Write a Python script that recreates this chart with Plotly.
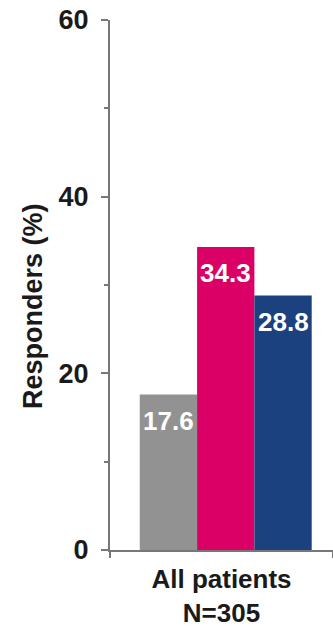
import plotly.graph_objects as go

# Responder rates for the three treatment arms, all patients (N=305)
category = "<b>All patients</b><br><b>N=305</b>"
arms = ["Arm A", "Arm B", "Arm C"]
responders = [17.6, 34.3, 28.8]
colors = ["#929292", "#da0066", "#1b427e"]
y_ticks = [0, 20, 40, 60]

FONT = "Liberation Sans, Arial, sans-serif"
PLOT_W = 223   # plot-area width in px (333 - left margin)
PLOT_H = 530   # plot-area height in px
bar_w = 0.257
shift = 0.019

fig = go.Figure()
for i, (name, val, col) in enumerate(zip(arms, responders, colors)):
    fig.add_trace(go.Bar(
        x=[category], y=[val], name=name,
        marker=dict(color=col, line=dict(width=0)),
        width=bar_w, offset=-1.5 * bar_w + shift + i * bar_w,
        showlegend=False, hoverinfo="skip",
    ))
    fig.add_annotation(
        x=category, y=val, xref="x", yref="y",
        xshift=((i - 1) * bar_w + shift) * PLOT_W,
        yshift=-26, text=f"<b>{val}</b>", showarrow=False,
        font=dict(family=FONT, size=26, color="white"),
    )

fig.add_annotation(
    xref="paper", yref="paper",
    x=(33 - 110) / PLOT_W, y=(550 - 306) / PLOT_H,
    xanchor="center", yanchor="middle",
    text="<b>Responders (%)</b>", showarrow=False, textangle=-90,
    font=dict(family=FONT, size=27, color="#1a1a1a"),
)

fig.update_layout(
    width=333, height=627,
    margin=dict(l=110, r=0, t=20, b=77),
    paper_bgcolor="white", plot_bgcolor="white",
    barmode="overlay",
    font=dict(family=FONT, color="#1a1a1a"),
    xaxis=dict(
        type="category", range=[-0.5, 0.5], tickson="boundaries",
        showline=True, linecolor="#777777", linewidth=2,
        ticks="outside", ticklen=6, tickcolor="#777777", tickwidth=1.5,
        tickfont=dict(size=26, color="#1a1a1a"), ticklabelstandoff=5,
        showgrid=False, zeroline=False, automargin=False,
    ),
    yaxis=dict(
        range=[0, 60], tickvals=y_ticks,
        ticktext=[f"<b>{t}</b>" for t in y_ticks],
        showline=True, linecolor="#777777", linewidth=2,
        ticks="outside", ticklen=7, tickcolor="#777777", tickwidth=1.5,
        minor=dict(dtick=10, ticks="outside", ticklen=4, tickcolor="#777777"),
        tickfont=dict(size=27, color="#1a1a1a"),
        showgrid=False, zeroline=False, ticklabelstandoff=7, automargin=False,
    ),
)

fig.write_html("out.html")
